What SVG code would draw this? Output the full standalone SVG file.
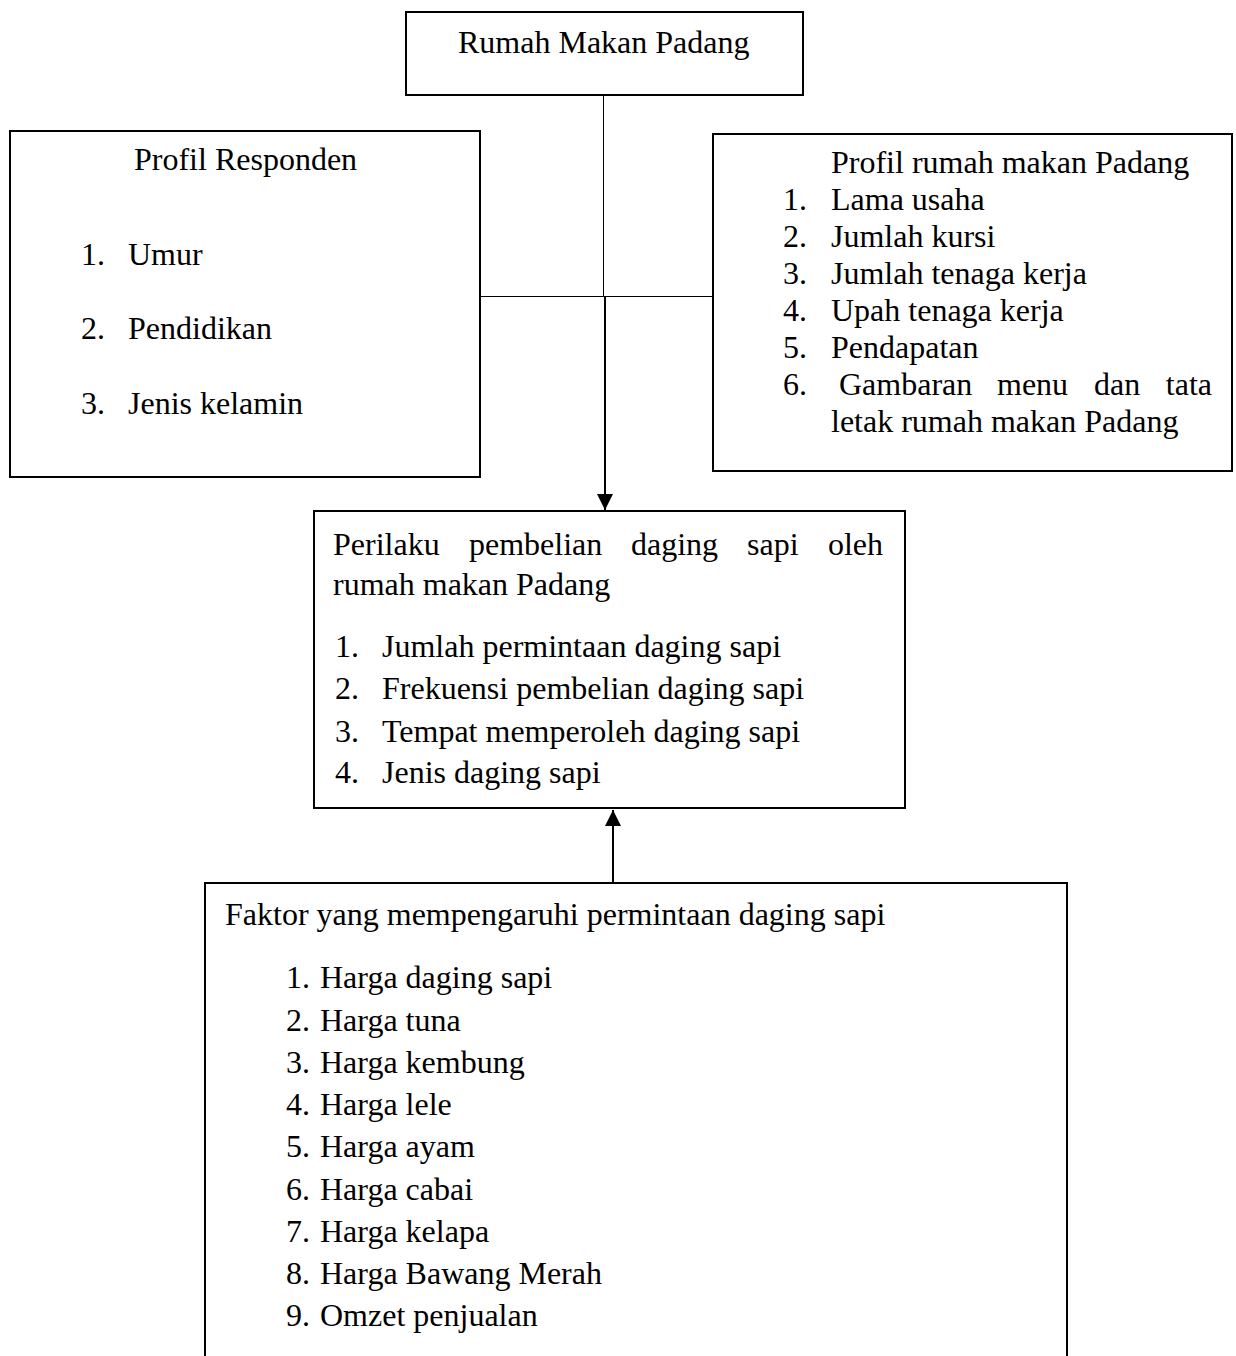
<svg xmlns="http://www.w3.org/2000/svg" width="1236" height="1356" viewBox="0 0 1236 1356">
<style>
.box{fill:#fff;stroke:#000;stroke-width:2}
text{font-family:"Liberation Serif","Times New Roman",serif;font-size:32px;fill:#000}
.thin{stroke:#000;stroke-width:1;fill:none}
.thick{stroke:#000;stroke-width:2;fill:none}
</style>
<defs>
<marker id="ah" markerUnits="userSpaceOnUse" markerWidth="16" markerHeight="16" viewBox="0 0 16 16" refX="16" refY="8" orient="auto">
<path d="M0,0 L16,8 L0,16 Z" fill="#000"/>
</marker>
</defs>
<rect width="1236" height="1356" fill="#fff"/>
<g id="connectors">
<line class="thin" x1="603.5" y1="95" x2="603.5" y2="296"/>
<line class="thin" x1="481" y1="296.5" x2="713" y2="296.5"/>
<line class="thick" x1="605" y1="296" x2="605" y2="510" marker-end="url(#ah)"/>
<line class="thick" x1="613" y1="883" x2="613" y2="810" marker-end="url(#ah)"/>
</g>
<g id="top">
<rect class="box" x="406" y="12" width="397" height="83"/>
<text x="458" y="53">Rumah Makan Padang</text>
</g>
<g id="profil-responden">
<rect class="box" x="10" y="131" width="470" height="346"/>
<text x="134" y="170">Profil Responden</text>
<text x="81" y="265">1.</text><text x="128" y="265">Umur</text>
<text x="81" y="339">2.</text><text x="128" y="339">Pendidikan</text>
<text x="81" y="414">3.</text><text x="128" y="414">Jenis kelamin</text>
</g>
<g id="profil-rumah-makan">
<rect class="box" x="713" y="134" width="519" height="337"/>
<text x="831" y="173">Profil rumah makan Padang</text>
<text x="783" y="210">1.</text><text x="831" y="210">Lama usaha</text>
<text x="783" y="247">2.</text><text x="831" y="247">Jumlah kursi</text>
<text x="783" y="284">3.</text><text x="831" y="284">Jumlah tenaga kerja</text>
<text x="783" y="321">4.</text><text x="831" y="321">Upah tenaga kerja</text>
<text x="783" y="358">5.</text><text x="831" y="358">Pendapatan</text>
<text x="783" y="395">6.</text><text x="839" y="395">Gambaran</text><text x="997" y="395">menu</text><text x="1094" y="395">dan</text><text x="1212" y="395" text-anchor="end">tata</text>
<text x="831" y="432">letak rumah makan Padang</text>
</g>
<g id="perilaku">
<rect class="box" x="314" y="511" width="591" height="297"/>
<text x="333" y="555">Perilaku</text><text x="469" y="555">pembelian</text><text x="631" y="555">daging</text><text x="747" y="555">sapi</text><text x="883" y="555" text-anchor="end">oleh</text>
<text x="333" y="595">rumah makan Padang</text>
<text x="335" y="657">1.</text><text x="382" y="657">Jumlah permintaan daging sapi</text>
<text x="335" y="699">2.</text><text x="382" y="699">Frekuensi pembelian daging sapi</text>
<text x="335" y="742">3.</text><text x="382" y="742">Tempat memperoleh daging sapi</text>
<text x="335" y="783">4.</text><text x="382" y="783">Jenis daging sapi</text>
</g>
<g id="faktor">
<path class="box" d="M205,1360 V883 H1067 V1360" fill="#fff"/>
<text x="225" y="925">Faktor yang mempengaruhi permintaan daging sapi</text>
<text x="286" y="988">1.</text><text x="320" y="988">Harga daging sapi</text>
<text x="286" y="1031">2.</text><text x="320" y="1031">Harga tuna</text>
<text x="286" y="1073">3.</text><text x="320" y="1073">Harga kembung</text>
<text x="286" y="1115">4.</text><text x="320" y="1115">Harga lele</text>
<text x="286" y="1157">5.</text><text x="320" y="1157">Harga ayam</text>
<text x="286" y="1200">6.</text><text x="320" y="1200">Harga cabai</text>
<text x="286" y="1242">7.</text><text x="320" y="1242">Harga kelapa</text>
<text x="286" y="1284">8.</text><text x="320" y="1284">Harga Bawang Merah</text>
<text x="286" y="1326">9.</text><text x="320" y="1326">Omzet penjualan</text>
</g>
</svg>
